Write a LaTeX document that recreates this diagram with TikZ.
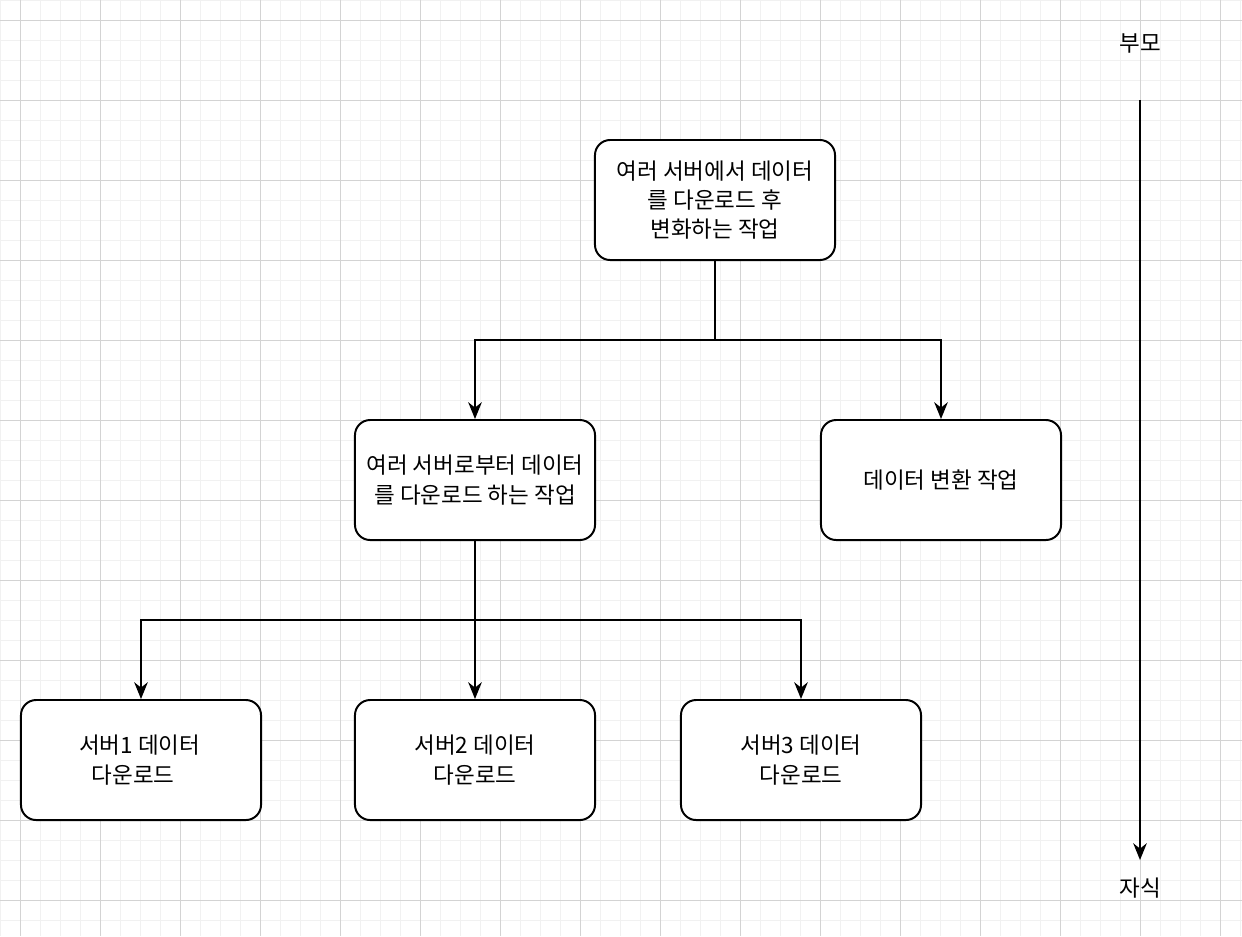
\documentclass[tikz,border=0pt]{standalone}
\usepackage{fontspec}
\setmainfont{Noto Sans CJK KR}
\usetikzlibrary{positioning,arrows.meta}
\definecolor{rejmenor}{HTML}{F1F1F1}
\definecolor{rejmayor}{HTML}{D3D3D3}
\begin{document}
\begin{tikzpicture}[x=0.025cm, y=-0.025cm,
  font=\fontsize{16}{20.8}\selectfont,
  tarea/.style={draw, line width=1.4pt, rounded corners=0.38cm, align=center,
    minimum width=6cm, minimum height=3cm, fill=white},
  flecha/.style={-{Stealth[length=4.2mm, width=3.4mm]}, line width=1.4pt}]
  \useasboundingbox (0,0) rectangle (1242,936);
  \fill[white] (0,0) rectangle (1242,936);
  % rejilla de fondo
  \foreach \i in {0,20,...,1240} \draw[rejmenor, line width=0.7pt] (\i,0) -- (\i,936);
  \foreach \j in {0,20,...,920} \draw[rejmenor, line width=0.7pt] (0,\j) -- (1242,\j);
  \foreach \i in {20,100,...,1220} \draw[rejmayor, line width=0.7pt] (\i,0) -- (\i,936);
  \foreach \j in {20,100,...,900} \draw[rejmayor, line width=0.7pt] (0,\j) -- (1242,\j);
  % tareas
  \node[tarea] (raiz) at (715,200) {여러 서버에서 데이터\\를 다운로드 후\\변화하는 작업};
  \node[tarea] (descarga) at (475,480) {여러 서버로부터 데이터\\를 다운로드 하는 작업};
  \node[tarea] (conv) at (941,480) {데이터 변환 작업};
  \node[tarea] (s1) at (141,760) {};
  \node[tarea] (s2) at (475,760) {서버2 데이터\\다운로드};
  \node[tarea] (s3) at (801,760) {서버3 데이터\\다운로드};
  \node[align=center] (s1txt) at (133,760) {\hspace*{0.6em}서버1 데이터\\다운로드};
  % conectores
  \coordinate (r1) at (715,340);
  \coordinate (r2) at (475,620);
  \draw[flecha] (raiz.south) -- (r1) -| (descarga.north);
  \draw[flecha] (r1) -| (conv.north);
  \draw[flecha] (descarga.south) -- (r2) -| (s1.north);
  \draw[flecha] (r2) -- (s2.north);
  \draw[flecha] (r2) -| (s3.north);
  % eje padre / hijo
  \node (padre) at (1140,43) {부모};
  \node (hijo) at (1140,888) {자식};
  \coordinate (ejeA) at (1140,100);
  \coordinate (ejeB) at (1140,860);
  \draw[flecha] (ejeA) -- (ejeB);
\end{tikzpicture}
\end{document}
